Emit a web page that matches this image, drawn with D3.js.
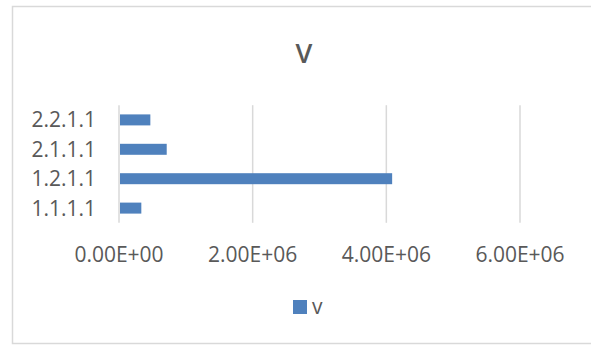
<!DOCTYPE html>
<html>
<head>
<meta charset="utf-8">
<script src="https://cdn.jsdelivr.net/npm/d3@7"></script>
<style>
  html, body { margin: 0; padding: 0; background: #fff; }
  svg { display: block; }
  text { font-family: "Open Sans", "Liberation Sans", sans-serif; fill: #595959; }
</style>
</head>
<body>
<script>
// Series data
const categories = ["1.1.1.1", "1.2.1.1", "2.1.1.1", "2.2.1.1"];
const values = [334000, 4087000, 714000, 469000];
const tickValues = [0, 2e6, 4e6, 6e6];
const tickLabels = ["0.00E+00", "2.00E+06", "4.00E+06", "6.00E+06"];
const seriesName = "v";
const chartTitle = "V";

const W = 591, H = 345;
const svg = d3.select("body").append("svg").attr("width", W).attr("height", H);

// Chart area frame
svg.append("rect")
  .attr("x", 12.5).attr("y", 6.5)
  .attr("width", 600).attr("height", 337)
  .attr("fill", "#fff").attr("stroke", "#d9d9d9").attr("stroke-width", 1.5);

const plot = { left: 119, right: 520, top: 105.2, bottom: 222.8 };

const x = d3.scaleLinear().domain([0, 6e6]).range([plot.left, plot.right]);
// Categories listed bottom-up
const y = d3.scaleBand()
  .domain(categories.slice().reverse())
  .range([plot.top, plot.bottom])
  .paddingInner(0.626)
  .paddingOuter(0.313);

// Vertical gridlines
svg.append("g").selectAll("line")
  .data(tickValues)
  .join("line")
  .attr("x1", d => x(d)).attr("x2", d => x(d))
  .attr("y1", plot.top).attr("y2", plot.bottom)
  .attr("stroke", "#d9d9d9").attr("stroke-width", 1.5);

// Bars
svg.append("g").selectAll("rect")
  .data(categories.map((c, i) => ({ c, v: values[i] })))
  .join("rect")
  .attr("x", x(0) + 1)
  .attr("y", d => y(d.c))
  .attr("width", d => x(d.v) - x(0) - 1)
  .attr("height", y.bandwidth())
  .attr("fill", "#4f81bd");

// Category axis labels
svg.append("g").selectAll("text")
  .data(categories)
  .join("text")
  .attr("x", 96)
  .attr("y", d => y(d) + y.bandwidth() / 2)
  .attr("dy", "0.36em")
  .attr("text-anchor", "end")
  .attr("font-size", 21)
  .text(d => d);

// Value axis labels
svg.append("g").selectAll("text")
  .data(tickValues)
  .join("text")
  .attr("x", d => x(d))
  .attr("y", 261.7)
  .attr("text-anchor", "middle")
  .attr("font-size", 21)
  .text((d, i) => tickLabels[i]);

// Title
svg.append("text")
  .attr("x", 304).attr("y", 62.7)
  .attr("text-anchor", "middle")
  .attr("font-size", 27)
  .attr("font-weight", 600)
  .text(chartTitle);

// Legend
svg.append("rect")
  .attr("x", 293).attr("y", 300)
  .attr("width", 14).attr("height", 14)
  .attr("fill", "#4f81bd");
svg.append("text")
  .attr("x", 312).attr("y", 314)
  .attr("font-size", 21)
  .text(seriesName);
</script>
</body>
</html>
